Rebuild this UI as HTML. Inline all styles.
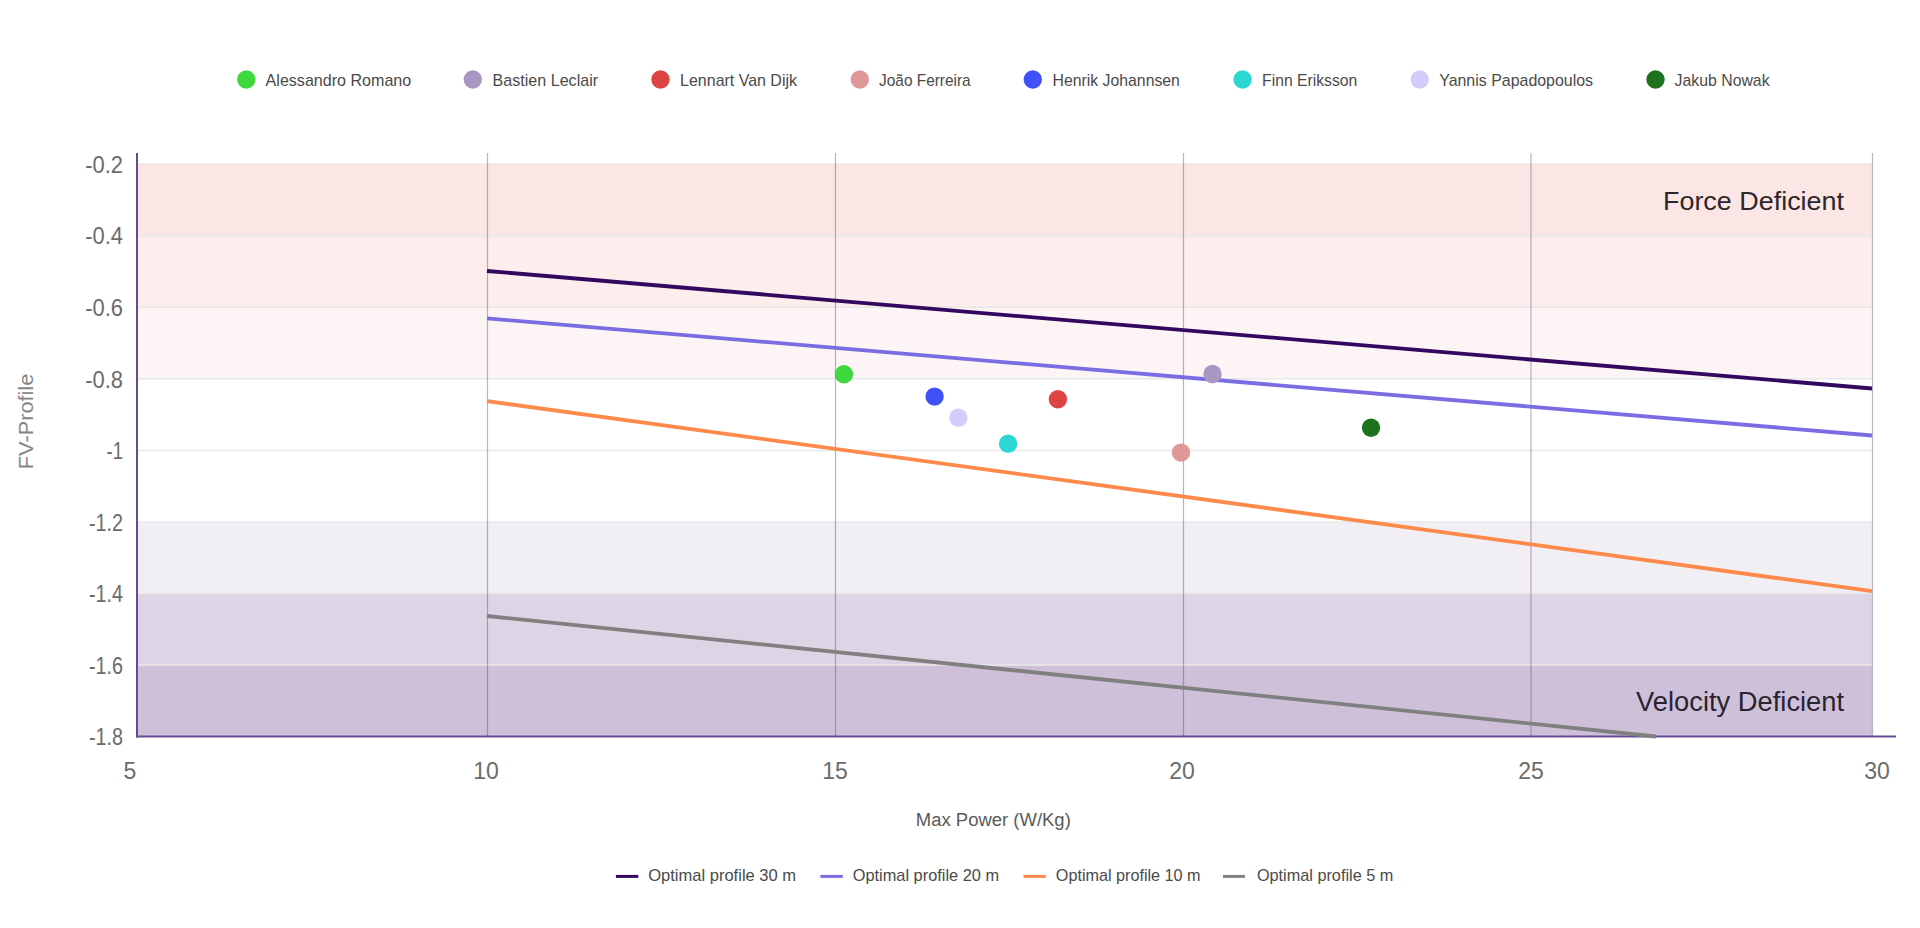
<!DOCTYPE html><html><head><meta charset="utf-8"><style>html,body{margin:0;padding:0;background:#fff;overflow:hidden}svg{display:block}</style></head><body><svg width="1920" height="928" viewBox="0 0 1920 928">
<rect width="1920" height="928" fill="#fff"/>
<rect x="138" y="164.20" width="1734" height="71.55" fill="#fbe6e5"/>
<rect x="138" y="235.75" width="1734" height="71.55" fill="#fdeded"/>
<rect x="138" y="307.30" width="1734" height="71.55" fill="#fdf5f5"/>
<rect x="138" y="521.95" width="1734" height="71.55" fill="#f1eef4"/>
<rect x="138" y="593.50" width="1734" height="71.55" fill="#ddd5e5"/>
<rect x="138" y="665.05" width="1734" height="71.55" fill="#cfc0d9"/>
<line x1="138" x2="1872" y1="235.75" y2="235.75" stroke="#e8e8e8" stroke-width="1.5"/>
<line x1="138" x2="1872" y1="307.30" y2="307.30" stroke="#e8e8e8" stroke-width="1.5"/>
<line x1="138" x2="1872" y1="378.85" y2="378.85" stroke="#e8e8e8" stroke-width="1.5"/>
<line x1="138" x2="1872" y1="450.40" y2="450.40" stroke="#e8e8e8" stroke-width="1.5"/>
<line x1="138" x2="1872" y1="521.95" y2="521.95" stroke="#e8e8e8" stroke-width="1.5"/>
<line x1="138" x2="1872" y1="593.50" y2="593.50" stroke="#e8e8e8" stroke-width="1.5"/>
<line x1="138" x2="1872" y1="665.05" y2="665.05" stroke="#e8e8e8" stroke-width="1.5"/>
<line x1="138" x2="1872" y1="164.20" y2="164.20" stroke="#ece3e3" stroke-width="1.5"/>
<line x1="487.5" x2="487.5" y1="153" y2="737" stroke="#503e6c" stroke-opacity="0.4" stroke-width="1.2"/>
<line x1="835.5" x2="835.5" y1="153" y2="737" stroke="#503e6c" stroke-opacity="0.4" stroke-width="1.2"/>
<line x1="1183.5" x2="1183.5" y1="153" y2="737" stroke="#503e6c" stroke-opacity="0.4" stroke-width="1.2"/>
<line x1="1531" x2="1531" y1="153" y2="737" stroke="#503e6c" stroke-opacity="0.4" stroke-width="1.2"/>
<line x1="1872.5" x2="1872.5" y1="153" y2="737" stroke="#503e6c" stroke-opacity="0.4" stroke-width="1.2"/>
<line x1="137" x2="137" y1="153" y2="737.5" stroke="#684a94" stroke-width="2"/>
<line x1="136" x2="1896" y1="736.5" y2="736.5" stroke="#684a94" stroke-width="2"/>
<line x1="487" y1="271" x2="1872" y2="388.5" stroke="#33085f" stroke-width="3.8"/>
<line x1="487" y1="318.4" x2="1872" y2="435.5" stroke="#7a6de3" stroke-width="3.8"/>
<line x1="487" y1="401.1" x2="1872" y2="591.1" stroke="#fd8a4b" stroke-width="3.8"/>
<line x1="487" y1="616" x2="1656" y2="736.5" stroke="#808080" stroke-width="3.8"/>
<circle cx="843.9" cy="374.2" r="9.2" fill="#3ed73e"/>
<circle cx="1212.5" cy="374" r="9.2" fill="#a996c2"/>
<circle cx="1057.9" cy="399.2" r="9.2" fill="#de4343"/>
<circle cx="1181" cy="452.6" r="9.2" fill="#e09797"/>
<circle cx="934.6" cy="396.6" r="9.2" fill="#3f50f6"/>
<circle cx="1008.1" cy="443.8" r="9.2" fill="#2bd7d2"/>
<circle cx="958.4" cy="417.7" r="9.2" fill="#d3cdfb"/>
<circle cx="1371" cy="427.8" r="9.2" fill="#1d721d"/>
<text x="123" y="172.8" font-family="Liberation Sans, sans-serif" font-size="23" fill="#6b6b6b" text-anchor="end" textLength="37.8" lengthAdjust="spacingAndGlyphs">-0.2</text>
<text x="123" y="244.3" font-family="Liberation Sans, sans-serif" font-size="23" fill="#6b6b6b" text-anchor="end" textLength="37.8" lengthAdjust="spacingAndGlyphs">-0.4</text>
<text x="123" y="315.9" font-family="Liberation Sans, sans-serif" font-size="23" fill="#6b6b6b" text-anchor="end" textLength="37.8" lengthAdjust="spacingAndGlyphs">-0.6</text>
<text x="123" y="387.5" font-family="Liberation Sans, sans-serif" font-size="23" fill="#6b6b6b" text-anchor="end" textLength="37.8" lengthAdjust="spacingAndGlyphs">-0.8</text>
<text x="123" y="459.0" font-family="Liberation Sans, sans-serif" font-size="23" fill="#6b6b6b" text-anchor="end" textLength="16.5" lengthAdjust="spacingAndGlyphs">-1</text>
<text x="123" y="530.6" font-family="Liberation Sans, sans-serif" font-size="23" fill="#6b6b6b" text-anchor="end" textLength="34" lengthAdjust="spacingAndGlyphs">-1.2</text>
<text x="123" y="602.1" font-family="Liberation Sans, sans-serif" font-size="23" fill="#6b6b6b" text-anchor="end" textLength="34" lengthAdjust="spacingAndGlyphs">-1.4</text>
<text x="123" y="673.6" font-family="Liberation Sans, sans-serif" font-size="23" fill="#6b6b6b" text-anchor="end" textLength="34" lengthAdjust="spacingAndGlyphs">-1.6</text>
<text x="123" y="745.2" font-family="Liberation Sans, sans-serif" font-size="23" fill="#6b6b6b" text-anchor="end" textLength="34" lengthAdjust="spacingAndGlyphs">-1.8</text>
<text x="130" y="778.9" font-family="Liberation Sans, sans-serif" font-size="23" fill="#6b6b6b" text-anchor="middle">5</text>
<text x="486" y="778.9" font-family="Liberation Sans, sans-serif" font-size="23" fill="#6b6b6b" text-anchor="middle">10</text>
<text x="835" y="778.9" font-family="Liberation Sans, sans-serif" font-size="23" fill="#6b6b6b" text-anchor="middle">15</text>
<text x="1182" y="778.9" font-family="Liberation Sans, sans-serif" font-size="23" fill="#6b6b6b" text-anchor="middle">20</text>
<text x="1531" y="778.9" font-family="Liberation Sans, sans-serif" font-size="23" fill="#6b6b6b" text-anchor="middle">25</text>
<text x="1877" y="778.9" font-family="Liberation Sans, sans-serif" font-size="23" fill="#6b6b6b" text-anchor="middle">30</text>
<text x="915.8" y="825.5" font-family="Liberation Sans, sans-serif" font-size="18" fill="#5a5a5a" textLength="155" lengthAdjust="spacingAndGlyphs">Max Power (W/Kg)</text>
<text transform="translate(33.3,469.2) rotate(-90)" x="0" y="0" font-family="Liberation Sans, sans-serif" font-size="21" fill="#858585" textLength="95.5" lengthAdjust="spacingAndGlyphs">FV-Profile</text>
<text x="1663" y="210.1" font-family="Liberation Sans, sans-serif" font-size="26.5" fill="#2e2629" textLength="181" lengthAdjust="spacingAndGlyphs">Force Deficient</text>
<text x="1636.1" y="711.25" font-family="Liberation Sans, sans-serif" font-size="27" fill="#2a2430" textLength="208" lengthAdjust="spacingAndGlyphs">Velocity Deficient</text>
<circle cx="246.3" cy="79.5" r="9.2" fill="#3ed73e"/>
<text x="265.6" y="86.3" font-family="Liberation Sans, sans-serif" font-size="17" fill="#4a4a4a" textLength="145.6" lengthAdjust="spacingAndGlyphs">Alessandro Romano</text>
<circle cx="472.8" cy="79.5" r="9.2" fill="#a996c2"/>
<text x="492.6" y="86.3" font-family="Liberation Sans, sans-serif" font-size="17" fill="#4a4a4a" textLength="105.5" lengthAdjust="spacingAndGlyphs">Bastien Leclair</text>
<circle cx="660.5" cy="79.5" r="9.2" fill="#de4343"/>
<text x="680.1" y="86.3" font-family="Liberation Sans, sans-serif" font-size="17" fill="#4a4a4a" textLength="116.9" lengthAdjust="spacingAndGlyphs">Lennart Van Dijk</text>
<circle cx="859.8" cy="79.5" r="9.2" fill="#e09797"/>
<text x="879.1" y="86.3" font-family="Liberation Sans, sans-serif" font-size="17" fill="#4a4a4a" textLength="91.6" lengthAdjust="spacingAndGlyphs">João Ferreira</text>
<circle cx="1032.8" cy="79.5" r="9.2" fill="#3f50f6"/>
<text x="1052.6" y="86.3" font-family="Liberation Sans, sans-serif" font-size="17" fill="#4a4a4a" textLength="127.3" lengthAdjust="spacingAndGlyphs">Henrik Johannsen</text>
<circle cx="1242.6" cy="79.5" r="9.2" fill="#2bd7d2"/>
<text x="1262.1" y="86.3" font-family="Liberation Sans, sans-serif" font-size="17" fill="#4a4a4a" textLength="95.1" lengthAdjust="spacingAndGlyphs">Finn Eriksson</text>
<circle cx="1419.7" cy="79.5" r="9.2" fill="#d3cdfb"/>
<text x="1439.2" y="86.3" font-family="Liberation Sans, sans-serif" font-size="17" fill="#4a4a4a" textLength="153.9" lengthAdjust="spacingAndGlyphs">Yannis Papadopoulos</text>
<circle cx="1655.5" cy="79.5" r="9.2" fill="#1d721d"/>
<text x="1674.6" y="86.3" font-family="Liberation Sans, sans-serif" font-size="17" fill="#4a4a4a" textLength="95.0" lengthAdjust="spacingAndGlyphs">Jakub Nowak</text>
<line x1="615.9" x2="638.3" y1="876.4" y2="876.4" stroke="#33085f" stroke-width="3"/>
<text x="648.2" y="881.1" font-family="Liberation Sans, sans-serif" font-size="17" fill="#4a4a4a" textLength="147.9" lengthAdjust="spacingAndGlyphs">Optimal profile 30 m</text>
<line x1="820.4" x2="842.8" y1="876.4" y2="876.4" stroke="#7a6de3" stroke-width="3"/>
<text x="852.7" y="881.1" font-family="Liberation Sans, sans-serif" font-size="17" fill="#4a4a4a" textLength="146.4" lengthAdjust="spacingAndGlyphs">Optimal profile 20 m</text>
<line x1="1023.5" x2="1045.9" y1="876.4" y2="876.4" stroke="#fd8a4b" stroke-width="3"/>
<text x="1055.8" y="881.1" font-family="Liberation Sans, sans-serif" font-size="17" fill="#4a4a4a" textLength="144.8" lengthAdjust="spacingAndGlyphs">Optimal profile 10 m</text>
<line x1="1223" x2="1244.9" y1="876.4" y2="876.4" stroke="#808080" stroke-width="3"/>
<text x="1256.9" y="881.1" font-family="Liberation Sans, sans-serif" font-size="17" fill="#4a4a4a" textLength="136.4" lengthAdjust="spacingAndGlyphs">Optimal profile 5 m</text>
</svg></body></html>
